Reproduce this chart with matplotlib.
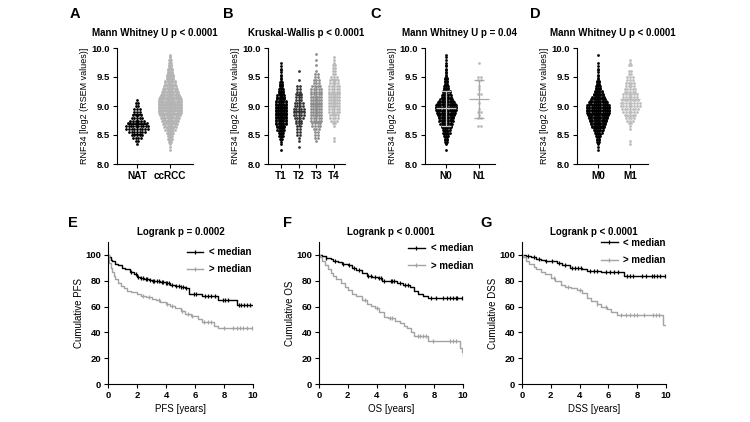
import numpy as np
import matplotlib
matplotlib.use('Agg')
import matplotlib.pyplot as plt
from matplotlib.lines import Line2D

plt.rcParams['font.family'] = ['Liberation Sans', 'DejaVu Sans']
plt.rcParams['axes.linewidth'] = 0.8

# RNF34 expression levels (log2 RSEM), binned at 0.05; counts
levels = np.round(np.arange(8.20, 9.91, 0.05), 2)

nat = [0,0,0,1,2,4,5,7,9,10, 8,6,5,4,3,3,2,2,1,0, 0,0,0,0,0,0,0,0,0,0, 0,0,0,0,0]
ccrcc = [0,1,1,2,4,5,6,7,9,11, 13,15,17,19,22,24,24,23,22,20, 17,15,13,11,10,9,8,7,6,5, 4,3,3,2,1]
t1 = [0,1,0,1,2,3,5,6,7,8, 10,10,12,12,12,12,12,10,9,8, 7,6,5,4,4,2,2,1,2,1, 1,1,0,0,0]
t2 = [0,0,1,0,1,1,2,2,2,2, 3,3,4,5,5,5,4,4,3,3, 3,2,2,2,0,1,0,0,1,0, 0,0,0,0,0]
t3 = [0,0,0,0,1,2,2,2,3,4, 4,5,5,6,6,6,6,6,6,6, 5,5,5,4,3,3,2,2,1,0, 1,0,1,0,1]
t4 = [0,0,0,0,1,1,0,0,0,1, 2,3,4,4,5,5,6,6,6,6, 6,5,5,5,4,4,3,2,2,2, 2,1,1,1,0]
n0 = [0,1,0,2,4,4,6,7,8,10, 11,13,14,16,18,20,20,17,13,10, 9,8,6,5,4,4,3,2,2,1, 2,1,1,1,1]
n1 = [0,0,0,0,0,0,0,0,0,2, 0,0,2,1,2,1,0,1,0,0, 2,0,1,1,0,2,2,0,0,0, 0,1,0,0,0]
m0 = [0,1,1,2,4,4,6,8,10,12, 14,16,18,20,22,22,22,18,15,12, 10,8,6,5,4,3,2,1,2,1, 1,1,0,0,1]
m1 = [0,0,0,1,1,0,0,0,1,1, 2,3,4,5,6,7,8,8,7,6, 6,5,5,4,4,3,3,2,2,0, 2,1,1,0,0]

# Kaplan-Meier curves (time in years, survival in %)
pfs_lo_t = [0, 0.1, 0.2, 0.3, 0.5, 0.7, 1.0, 1.2, 1.5, 1.8, 2.0, 2.2, 2.5, 2.8, 3.0, 3.3, 3.6, 4.0, 4.3, 4.6, 5.0, 5.3, 5.6, 6.5, 7.6, 8.9]
pfs_lo_s = [100, 98, 96, 95, 93, 92, 90, 89, 87, 85, 83, 82, 81, 80.5, 80, 79.5, 79, 78, 77, 76, 75, 74.5, 70, 68, 65, 61]
pfs_hi_t = [0, 0.05, 0.1, 0.2, 0.3, 0.4, 0.5, 0.7, 0.9, 1.1, 1.3, 1.6, 2.0, 2.3, 2.6, 3.0, 3.3, 3.6, 4.0, 4.3, 4.6, 5.0, 5.3, 5.7, 6.2, 6.5, 7.3, 7.6]
pfs_hi_s = [100, 97, 94, 90, 87, 84, 81, 78, 76, 74, 72, 71, 70, 68.5, 67.5, 66, 65, 63.5, 62, 60.5, 58.5, 56.5, 54, 53, 50, 48, 45, 43]
pfs_lo_c = [1.6, 1.9, 2.1, 2.3, 2.4, 2.6, 2.7, 2.9, 3.1, 3.2, 3.4, 3.5, 3.7, 3.8, 4.0, 4.1, 4.2, 4.4, 4.7, 4.9, 5.0, 5.2, 5.4, 5.9, 6.1, 6.7, 6.9, 7.1, 7.4, 7.9, 8.1, 8.3, 9.0, 9.2, 9.4, 9.6, 9.8]
pfs_hi_c = [2.4, 2.8, 3.5, 4.1, 4.4, 5.1, 5.5, 5.8, 6.6, 6.9, 7.1, 8.0, 8.6, 8.9, 9.1, 9.3, 9.6, 9.9]

os_lo_t = [0, 0.2, 0.5, 0.8, 1.0, 1.3, 1.6, 2.0, 2.3, 2.6, 3.0, 3.3, 3.7, 4.1, 4.4, 4.8, 5.4, 5.8, 6.3, 6.6, 6.9, 7.2, 7.6]
os_lo_s = [100, 99, 97.5, 96.5, 95.5, 94.5, 93, 92, 90, 88, 86, 84, 83, 82, 80, 79.5, 78, 77, 75.5, 72, 70, 68, 67]
os_hi_t = [0, 0.1, 0.2, 0.4, 0.6, 0.8, 1.0, 1.2, 1.5, 1.8, 2.0, 2.3, 2.6, 3.0, 3.3, 3.6, 3.9, 4.2, 4.5, 4.8, 5.3, 5.6, 5.9, 6.1, 6.4, 6.6, 7.6, 9.8, 9.9, 10.0]
os_hi_s = [100, 98, 95, 92, 89, 86, 84, 81, 78, 75, 73, 70, 68, 65, 62, 60.5, 59, 56, 52, 51, 49, 47, 45, 43, 40, 37.5, 33, 28, 25, 22]
os_lo_c = [0.5, 1.1, 1.7, 2.1, 2.4, 2.8, 3.4, 3.6, 3.9, 4.2, 4.3, 4.5, 5.0, 5.1, 5.2, 5.6, 6.0, 6.2, 7.8, 8.1, 8.6, 8.9, 9.1, 9.3, 9.5, 9.6, 9.9]
os_hi_c = [3.2, 4.0, 4.9, 5.1, 6.9, 7.0, 7.2, 7.4, 7.9, 9.1, 9.3, 9.5]

dss_lo_t = [0, 0.3, 0.6, 1.0, 1.3, 1.6, 2.0, 2.4, 2.8, 3.3, 4.2, 4.5, 5.5, 7.1]
dss_lo_s = [100, 99, 98, 97, 96, 95.5, 95, 93.5, 92, 90, 89, 87.5, 86.5, 84]
dss_hi_t = [0, 0.1, 0.3, 0.5, 0.8, 1.0, 1.3, 1.6, 2.0, 2.3, 2.7, 3.0, 3.4, 3.8, 4.2, 4.5, 4.8, 5.2, 5.5, 5.9, 6.2, 6.6, 9.8]
dss_hi_s = [100, 98, 95, 93, 91, 89, 87, 85, 82, 80, 77, 75, 74, 72.5, 70.5, 67, 64.5, 62, 60, 58, 55.5, 53.5, 46]
dss_lo_c = [0.4, 0.8, 1.2, 1.7, 2.1, 2.6, 3.0, 3.5, 3.7, 3.9, 4.1, 4.7, 5.0, 5.2, 5.8, 6.1, 6.4, 6.7, 7.3, 7.5, 7.7, 8.3, 8.6, 9.0, 9.2, 9.4, 9.6, 9.9]
dss_hi_c = [2.2, 3.2, 4.0, 5.2, 5.8, 6.9, 7.2, 7.5, 7.8, 8.0, 8.5, 9.1, 9.3, 9.5]

W, H = 750, 422
fig = plt.figure(figsize=(7.5, 4.22), dpi=100)


def rect(x0, x1, ytop, ybot):
    return [x0 / W, 1 - ybot / H, (x1 - x0) / W, (ybot - ytop) / H]


def style_axes(ax):
    ax.spines['top'].set_visible(False)
    ax.spines['right'].set_visible(False)
    ax.tick_params(length=3, width=0.8, pad=2, labelsize=6.8)
    for lab in ax.get_yticklabels() + ax.get_xticklabels():
        lab.set_fontweight('bold')


def swarm(ax, xc, counts, color, rows, cap_px, gap_px):
    ppu = ax.get_window_extent().width / (ax.get_xlim()[1] - ax.get_xlim()[0])
    xs, ys = [], []
    for lev, n in zip(levels, counts):
        for r in range(rows):
            m = n // rows + (1 if r < n % rows else 0)
            if m == 0:
                continue
            gap = gap_px
            if m > 1 and (m - 1) * gap > cap_px:
                gap = cap_px / (m - 1)
            off = (np.arange(m) - (m - 1) / 2) * gap / ppu
            xs.extend(xc + off)
            ys.extend([lev + (r - (rows - 1) / 2) * 0.05 / rows] * m)
    ax.scatter(xs, ys, s=4, color=color, linewidths=0, zorder=2)
    return ppu


def dot_panel(x0, x1, xlim, names, groups, colors, err_colors, rows, cap_px, bar_px, title, letter, lx):
    ax = fig.add_axes(rect(x0, x1, 48, 164))
    ax.set_xlim(*xlim)
    ax.set_ylim(8.0, 10.0)
    ax.set_yticks([8.0, 8.5, 9.0, 9.5, 10.0])
    ax.set_yticklabels(['8.0', '8.5', '9.0', '9.5', '10.0'])
    ax.set_xticks(range(len(names)))
    ax.set_xticklabels(names)
    for i, (cnt, col, ecol, nr) in enumerate(zip(groups, colors, err_colors, rows)):
        gap = 2.3 if nr > 1 else 2.7
        ppu = swarm(ax, i, cnt, col, nr, cap_px, gap)
        vals = np.repeat(levels, cnt)
        mu, sd = vals.mean(), vals.std(ddof=1)
        ax.hlines(mu, i - bar_px / ppu, i + bar_px / ppu, color=ecol, lw=0.9, zorder=3)
        ax.hlines([mu - sd, mu + sd], i - bar_px / 2 / ppu, i + bar_px / 2 / ppu, color=ecol, lw=0.9, zorder=3)
        ax.vlines(i, mu - sd, mu + sd, color=ecol, lw=0.9, zorder=3)
    ax.set_ylabel('RNF34 [log2 (RSEM values)]', fontsize=6.5, labelpad=1.5)
    ax.set_title(title, fontsize=7, fontweight='bold', pad=9)
    style_axes(ax)
    for lab in ax.get_xticklabels():
        lab.set_fontsize(7.2)
    fig.text(lx / W, 1 - 14 / H, letter, fontsize=10.5, fontweight='bold', ha='center', va='center')
    return ax


def surv_at(t, s, c):
    idx = np.searchsorted(t, c, side='right') - 1
    return np.asarray(s)[idx]


def km_panel(x0, x1, curves, title, xlab, ylab, letter, lx, leg_xy):
    ax = fig.add_axes(rect(x0, x1, 242, 384))
    handles = []
    for (t, s, c), col in zip(curves, ['black', '#a3a3a3']):
        tt = list(t) + [10]
        ss = list(s) + [s[-1]]
        ax.step(tt, ss, where='post', color=col, lw=1.0, zorder=2)
        ax.plot(c, surv_at(t, s, c), ls='none', marker='|', ms=3.2, mew=0.9, color=col, zorder=3)
        handles.append(Line2D([0], [0], color=col, lw=1.0, marker='|', ms=3.2, mew=0.9))
    ax.set_xlim(0, 10)
    ax.set_ylim(0, 110)
    ax.set_xticks([0, 2, 4, 6, 8, 10])
    ax.set_yticks([0, 20, 40, 60, 80, 100])
    ax.set_xlabel(xlab, fontsize=7, labelpad=3)
    ax.set_ylabel(ylab, fontsize=7, labelpad=1)
    ax.set_title(title, fontsize=7, fontweight='bold', pad=5)
    style_axes(ax)
    ax.legend(handles, ['< median', '> median'], loc='upper right', bbox_to_anchor=leg_xy,
              frameon=False, borderpad=0, borderaxespad=0, handlelength=1.7,
              handletextpad=0.6, labelspacing=0.75, prop={'size': 7, 'weight': 'bold'})
    fig.text(lx / W, 1 - 223 / H, letter, fontsize=10.5, fontweight='bold', ha='center', va='center')
    return ax


dot_panel(117, 193, (-0.61, 1.70), ['NAT', 'ccRCC'], [nat, ccrcc],
          ['black', '#b4b4b4'], ['black', '#b4b4b4'], [1, 2], 22, 10,
          'Mann Whitney U p < 0.0001', 'A', 75)
dot_panel(268, 345, (-0.73, 3.62), ['T1', 'T2', 'T3', 'T4'], [t1, t2, t3, t4],
          ['black', '#333333', '#8c8c8c', '#b8b8b8'], ['black', '#333333', '#8c8c8c', '#b8b8b8'],
          [2, 1, 1, 1], 10, 6, 'Kruskal-Wallis p < 0.0001', 'B', 228)
dot_panel(425, 495, (-0.64, 1.48), ['N0', 'N1'], [n0, n1],
          ['black', '#bdbdbd'], ['#c8c8c8', '#a8a8a8'], [2, 1], 22, 10,
          'Mann Whitney U p = 0.04', 'C', 376)
dot_panel(577, 648, (-0.66, 1.56), ['M0', 'M1'], [m0, m1],
          ['black', '#bdbdbd'], ['black', '#bdbdbd'], [2, 1], 22, 10,
          'Mann Whitney U p < 0.0001', 'D', 535)

km_panel(108, 253, [(pfs_lo_t, pfs_lo_s, pfs_lo_c), (pfs_hi_t, pfs_hi_s, pfs_hi_c)],
         'Logrank p = 0.0002', 'PFS [years]', 'Cumulative PFS', 'E', 73, (0.99, 0.965))
km_panel(319, 463, [(os_lo_t, os_lo_s, os_lo_c), (os_hi_t, os_hi_s, os_hi_c)],
         'Logrank p < 0.0001', 'OS [years]', 'Cumulative OS', 'F', 287, (1.07, 0.99))
km_panel(522, 666, [(dss_lo_t, dss_lo_s, dss_lo_c), (dss_hi_t, dss_hi_s, dss_hi_c)],
         'Logrank p < 0.0001', 'DSS [years]', 'Cumulative DSS', 'G', 486, (1.0, 1.03))

fig.savefig('out.png', dpi=100)
